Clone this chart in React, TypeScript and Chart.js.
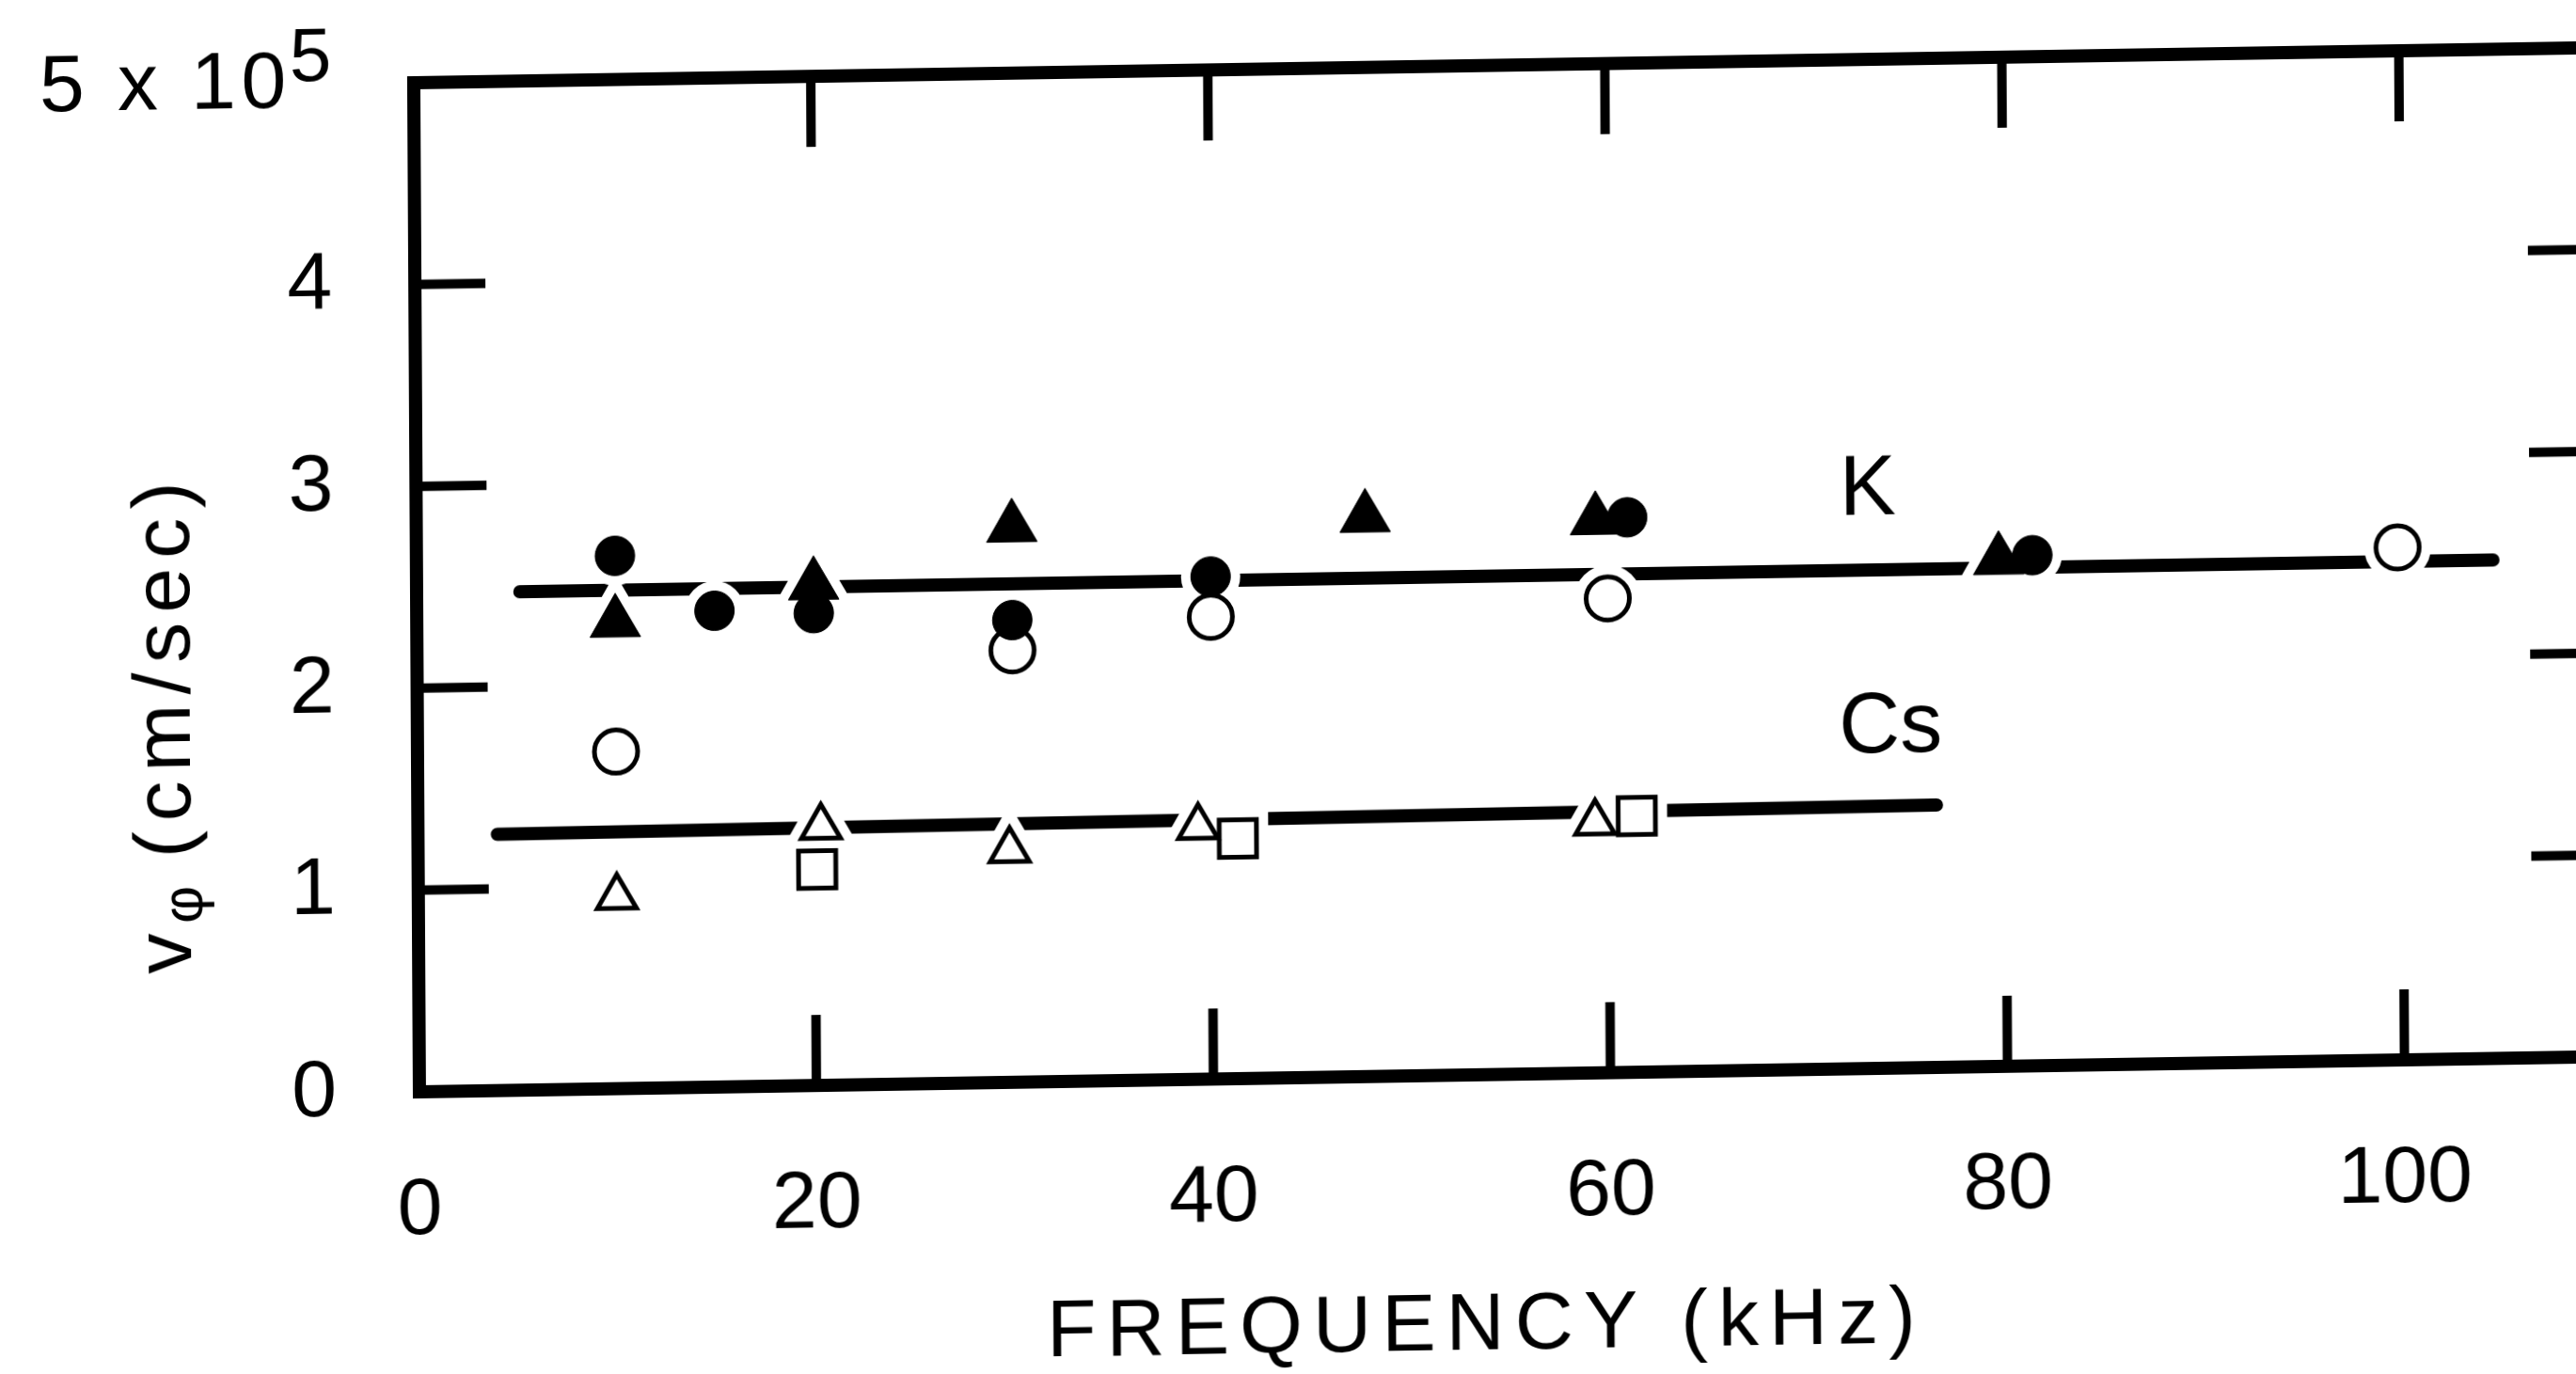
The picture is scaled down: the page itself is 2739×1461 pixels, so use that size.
import React, { useEffect, useRef } from "react";
import { Chart, registerables } from "chart.js";

Chart.register(...registerables);

// ---------- data ----------
const xTickValues = [0, 20, 40, 60, 80, 100];
const yTickValues = [0, 1, 2, 3, 4, 5];
const xMin = 0;
const xMax = 110;
const yMin = 0;
const yMax = 5;

const kFilledCircleFreq = [10, 15, 20, 30, 40, 61, 81.4];
const kFilledCircleV = [2.64, 2.36, 2.34, 2.29, 2.49, 2.75, 2.53];
const kFilledTriangleFreq = [10, 20, 30, 47.8, 59.4, 79.7];
const kFilledTriangleV = [2.31, 2.48, 2.75, 2.77, 2.74, 2.51];
const kOpenCircleFreq = [10, 30, 40, 60, 99.8];
const kOpenCircleV = [1.67, 2.14, 2.29, 2.35, 2.54];
const csOpenTriangleFreq = [10, 20.3, 29.8, 39.3, 59.3];
const csOpenTriangleV = [0.95, 1.28, 1.15, 1.25, 1.24];
const csOpenSquareFreq = [20.1, 41.3, 61.4];
const csOpenSquareV = [1.07, 1.19, 1.27];
const kFitFreq = [5.2, 104.6];
const kFitV = [2.47, 2.47];
const csFitFreq = [4.0, 76.5];
const csFitV = [1.27, 1.3];
const seriesLabels = ["K", "Cs"];
const seriesLabelFreq = [71.7, 71.6];
const seriesLabelV = [2.86, 1.68];

const xTitle = "FREQUENCY (kHz)";
const yTitleMain = "v";
const yTitleSub = "\u03c6";
const yTitleUnit = "(cm/sec)";

// ---------- helpers ----------
const zip = (xs: number[], ys: number[]) => xs.map((x, i) => ({ x, y: ys[i] }));

const FONT = "'Liberation Sans', Arial, sans-serif";
const TEXT_FONT = "'Liberation Sans', Arial, sans-serif";
const CANVAS_W = 2900;
const CANVAS_H = 1500;
const PLOT_LEFT = 446;
const PLOT_TOP = 88;
const PLOT_BOTTOM = 1161;
const PLOT_RIGHT = 2768;

type MarkerDef = {
  label: string;
  freq: number[];
  v: number[];
  style: string;
  r: number;
  fill: string;
  bw: number;
};

const markerDefs: MarkerDef[] = [
  { label: "K filled circles", freq: kFilledCircleFreq, v: kFilledCircleV, style: "circle", r: 21, fill: "#000", bw: 1 },
  { label: "K filled triangles", freq: kFilledTriangleFreq, v: kFilledTriangleV, style: "triangle", r: 31, fill: "#000", bw: 1 },
  { label: "K open circles", freq: kOpenCircleFreq, v: kOpenCircleV, style: "circle", r: 23, fill: "#fff", bw: 5 },
  { label: "Cs open triangles", freq: csOpenTriangleFreq, v: csOpenTriangleV, style: "triangle", r: 24, fill: "#fff", bw: 5 },
  { label: "Cs open squares", freq: csOpenSquareFreq, v: csOpenSquareV, style: "rect", r: 28, fill: "#fff", bw: 5 },
];

function fitText(ctx: CanvasRenderingContext2D, text: string, target: number) {
  (ctx as any).letterSpacing = "0px";
  const w = ctx.measureText(text).width;
  const sp = (target - w) / text.length;
  (ctx as any).letterSpacing = `${sp}px`;
}

const framePlugin = {
  id: "frameAndText",
  afterDraw(chart: any) {
    const { ctx, chartArea: a, scales } = chart;
    const xs = scales.x;
    const ys = scales.y;
    ctx.save();
    ctx.strokeStyle = "#000";
    ctx.fillStyle = "#000";
    // frame
    ctx.lineWidth = 14;
    ctx.lineJoin = "miter";
    ctx.strokeRect(a.left, a.top, a.right - a.left, a.bottom - a.top);
    // inward ticks
    ctx.lineWidth = 10;
    ctx.lineCap = "butt";
    const tl = 75;
    ctx.beginPath();
    xTickValues.forEach((v) => {
      if (v <= xMin || v >= xMax) return;
      const px = xs.getPixelForValue(v);
      ctx.moveTo(px, a.bottom);
      ctx.lineTo(px, a.bottom - tl);
      ctx.moveTo(px, a.top);
      ctx.lineTo(px, a.top + tl);
    });
    yTickValues.forEach((v) => {
      if (v <= yMin || v >= yMax) return;
      const py = ys.getPixelForValue(v);
      ctx.moveTo(a.left, py);
      ctx.lineTo(a.left + tl, py);
      ctx.moveTo(a.right, py);
      ctx.lineTo(a.right - tl, py);
    });
    ctx.stroke();

    // top y label "5 x 10^5"
    const pTop = ys.getPixelForValue(yMax);
    ctx.font = `86px ${TEXT_FONT}`;
    ctx.textBaseline = "middle";
    ctx.textAlign = "right";
    fitText(ctx, "5 x 10", 268);
    ctx.fillText("5 x 10", a.left - 130, pTop);
    (ctx as any).letterSpacing = "0px";
    ctx.textAlign = "left";
    ctx.textBaseline = "alphabetic";
    ctx.font = `80px ${TEXT_FONT}`;
    ctx.fillText("5", a.left - 132, pTop - 4);

    // series labels
    ctx.font = `90px ${TEXT_FONT}`;
    ctx.textAlign = "left";
    ctx.textBaseline = "middle";
    seriesLabels.forEach((t, i) => {
      ctx.fillText(t, xs.getPixelForValue(seriesLabelFreq[i]), ys.getPixelForValue(seriesLabelV[i]));
    });

    // x title
    ctx.font = `86px ${TEXT_FONT}`;
    ctx.textAlign = "center";
    ctx.textBaseline = "middle";
    fitText(ctx, xTitle, 935);
    ctx.fillText(xTitle, a.left + 0.488 * (a.right - a.left), a.bottom + 268);
    (ctx as any).letterSpacing = "0px";

    // y title (rotated)
    ctx.translate(a.left - 242, a.bottom - 130);
    ctx.rotate(-Math.PI / 2);
    ctx.textAlign = "left";
    ctx.textBaseline = "alphabetic";
    ctx.font = `86px ${TEXT_FONT}`;
    ctx.fillText(yTitleMain, 0, 0);
    ctx.font = `62px ${TEXT_FONT}`;
    ctx.fillText(yTitleSub, 53, 12);
    ctx.font = `86px ${TEXT_FONT}`;
    fitText(ctx, yTitleUnit, 410);
    ctx.fillText(yTitleUnit, 123, 0);
    (ctx as any).letterSpacing = "0px";
    ctx.restore();
  },
};

export default function App() {
  const ref = useRef<HTMLCanvasElement | null>(null);

  useEffect(() => {
    if (!ref.current) return;

    const lineDatasets = [
      { label: "K fit", data: zip(kFitFreq, kFitV) },
      { label: "Cs fit", data: zip(csFitFreq, csFitV) },
    ].map((d) => ({
      ...d,
      type: "line" as const,
      showLine: true,
      borderColor: "#000",
      borderWidth: 14,
      borderCapStyle: "round" as const,
      pointRadius: 0,
      fill: false,
      order: 20,
    }));

    const haloDatasets = markerDefs.map((m) => ({
      label: m.label + " halo",
      data: zip(m.freq, m.v),
      showLine: false,
      pointStyle: m.style as any,
      pointRadius: m.r,
      pointBackgroundColor: "#fff",
      pointBorderColor: "#fff",
      pointBorderWidth: m.bw + 20,
      order: 10,
    }));

    const markerDatasets = markerDefs.map((m, i) => ({
      label: m.label,
      data: zip(m.freq, m.v),
      showLine: false,
      pointStyle: m.style as any,
      pointRadius: m.r,
      pointBackgroundColor: m.fill,
      pointBorderColor: "#000",
      pointBorderWidth: m.bw,
      order: 1 + i,
    }));

    const chart = new Chart(ref.current, {
      type: "scatter",
      data: { datasets: [...lineDatasets, ...haloDatasets, ...markerDatasets] as any },
      options: {
        responsive: false,
        animation: false,
        devicePixelRatio: 1,
        events: [],
        layout: { padding: { top: PLOT_TOP, right: CANVAS_W - PLOT_RIGHT, left: 0, bottom: 0 } },
        plugins: { legend: { display: false }, tooltip: { enabled: false } },
        scales: {
          x: {
            type: "linear",
            min: xMin,
            max: xMax,
            afterBuildTicks: (s: any) => {
              s.ticks = xTickValues.map((v) => ({ value: v }));
            },
            afterFit: (s: any) => {
              s.height = CANVAS_H - PLOT_BOTTOM;
              s.paddingLeft = 0;
              s.paddingRight = 0;
            },
            grid: { display: false },
            border: { display: false },
            ticks: {
              color: "#000",
              font: { size: 86, family: FONT },
              padding: 68,
              maxRotation: 0,
              autoSkip: false,
            },
          },
          y: {
            type: "linear",
            min: yMin,
            max: yMax,
            afterBuildTicks: (s: any) => {
              s.ticks = yTickValues.map((v) => ({ value: v }));
            },
            afterFit: (s: any) => {
              s.width = PLOT_LEFT;
              s.paddingTop = 0;
              s.paddingBottom = 0;
            },
            grid: { display: false },
            border: { display: false },
            ticks: {
              color: "#000",
              font: { size: 86, family: FONT },
              padding: 80,
              callback: (v: any) => (Number(v) === yMax ? "" : String(v)),
            },
          },
        },
      },
      plugins: [framePlugin],
    });
    return () => chart.destroy();
  }, []);

  return (
    <div
      style={{
        position: "fixed",
        left: 0,
        top: 0,
        width: "100vw",
        height: "100vh",
        overflow: "hidden",
        background: "#fff",
      }}
    >
      <canvas
        ref={ref}
        width={CANVAS_W}
        height={CANVAS_H}
        style={{
          position: "absolute",
          left: 0,
          top: 0,
          width: `${CANVAS_W}px`,
          height: `${CANVAS_H}px`,
          transformOrigin: `${PLOT_LEFT}px ${PLOT_BOTTOM}px`,
          transform: "matrix(1, -0.0161, 0.0056, 1, 0, 0)",
        }}
      />
    </div>
  );
}
